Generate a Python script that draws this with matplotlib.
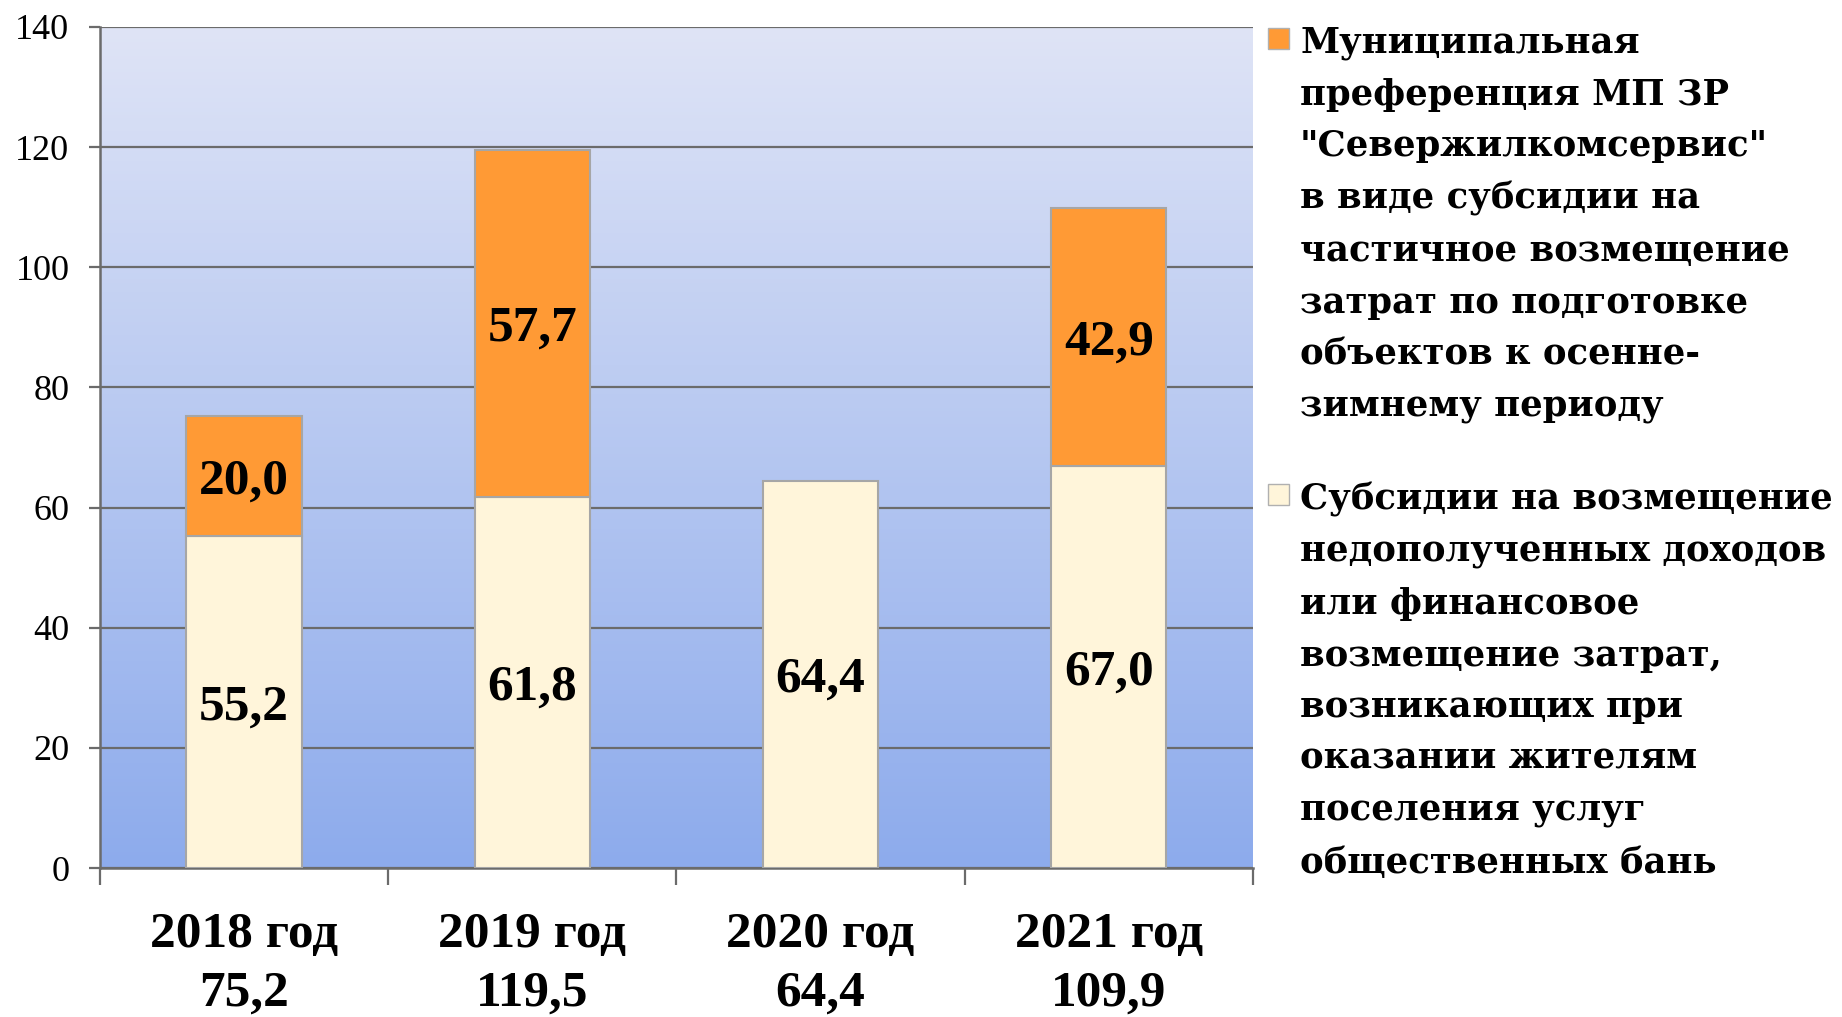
import numpy as np
import matplotlib.pyplot as plt
from matplotlib.patches import Rectangle

years = ['2018 год', '2019 год', '2020 год', '2021 год']
totals = ['75,2', '119,5', '64,4', '109,9']
subsidy = np.array([55.2, 61.8, 64.4, 67.0])
preference = np.array([20.0, 57.7, 0.0, 42.9])
legend_labels = [
    'Муниципальная\nпреференция МП ЗР\n"Севержилкомсервис"\nв виде субсидии на\n'
    'частичное возмещение\nзатрат по подготовке\nобъектов к осенне-\nзимнему периоду',
    'Субсидии на возмещение\nнедополученных доходов\nили финансовое\nвозмещение затрат,\n'
    'возникающих при\nоказании жителям\nпоселения услуг\nобщественных бань',
]
c_orange = '#ff9a35'
c_cream = '#fff5da'

plt.rcParams['font.family'] = ['Liberation Serif', 'DejaVu Serif']

fig = plt.figure(figsize=(18.42, 10.17), dpi=100)
ax = fig.add_axes([0.0543, 0.1465, 0.6259, 0.827])

# gradient background
grad = np.linspace(0, 1, 256).reshape(-1, 1)
top_c = np.array([0xdf, 0xe4, 0xf6]) / 255
bot_c = np.array([0x8d, 0xab, 0xec]) / 255
img = top_c + (bot_c - top_c) * grad[:, :, None]
ax.imshow(img, extent=[0, 1, 0, 1], transform=ax.transAxes, aspect='auto', zorder=0)

x = np.arange(len(years))
w = 0.4
ax.bar(x, subsidy, w, color=c_cream, edgecolor='#a6a6a6', linewidth=1.5, zorder=3)
mask = preference > 0
ax.bar(x[mask], preference[mask], w, bottom=subsidy[mask], color=c_orange,
       edgecolor='#a6a6a6', linewidth=1.5, zorder=3)

for i in range(len(x)):
    ax.text(x[i], subsidy[i] / 2, f'{subsidy[i]:.1f}'.replace('.', ','), ha='center',
            va='center_baseline', fontsize=37, fontweight='bold', zorder=4)
    if preference[i] > 0:
        ax.text(x[i], subsidy[i] + preference[i] / 2, f'{preference[i]:.1f}'.replace('.', ','),
                ha='center', va='center_baseline', fontsize=37, fontweight='bold', zorder=4)

ax.set_xlim(-0.5, len(years) - 0.5)
ax.set_ylim(0, 140)
ax.set_yticks(range(0, 141, 20))
ax.yaxis.grid(True, color='#6b6b6b', linewidth=1.6, zorder=1)
ax.set_axisbelow(True)
ax.tick_params(axis='y', labelsize=26, length=8, width=1.6, color='#6b6b6b', pad=14)

ax.set_xticks(x)
ax.set_xticklabels([f'{y}\n{t}' for y, t in zip(years, totals)], fontsize=37,
                   fontweight='bold', linespacing=1.35)
ax.set_xticks(np.arange(-0.5, len(years), 1), minor=True)
ax.tick_params(axis='x', which='major', length=0, pad=32)
ax.tick_params(axis='x', which='minor', length=12, width=1.6, color='#6b6b6b')

for s in ['top', 'right']:
    ax.spines[s].set_visible(False)
for s in ['left', 'bottom']:
    ax.spines[s].set_color('#6b6b6b')
    ax.spines[s].set_linewidth(1.8)

# legend
leg_x = 1268 / 1842
text_x = 1300 / 1842
leg_tops = [28 / 1017, 484 / 1017]
for lab, col, top in zip(legend_labels, [c_orange, c_cream], leg_tops):
    fig.patches.append(Rectangle((leg_x, 1 - top - 21 / 1017), 21 / 1842, 21 / 1017,
                                 transform=fig.transFigure, facecolor=col,
                                 edgecolor='#b0b0b0', linewidth=1))
    fig.text(text_x, 1 - top + 2 / 1017, lab, ha='left', va='top', fontsize=25.5,
             fontweight='bold', family=['DejaVu Serif'], linespacing=1.655)

fig.savefig('out.png', dpi=100)
